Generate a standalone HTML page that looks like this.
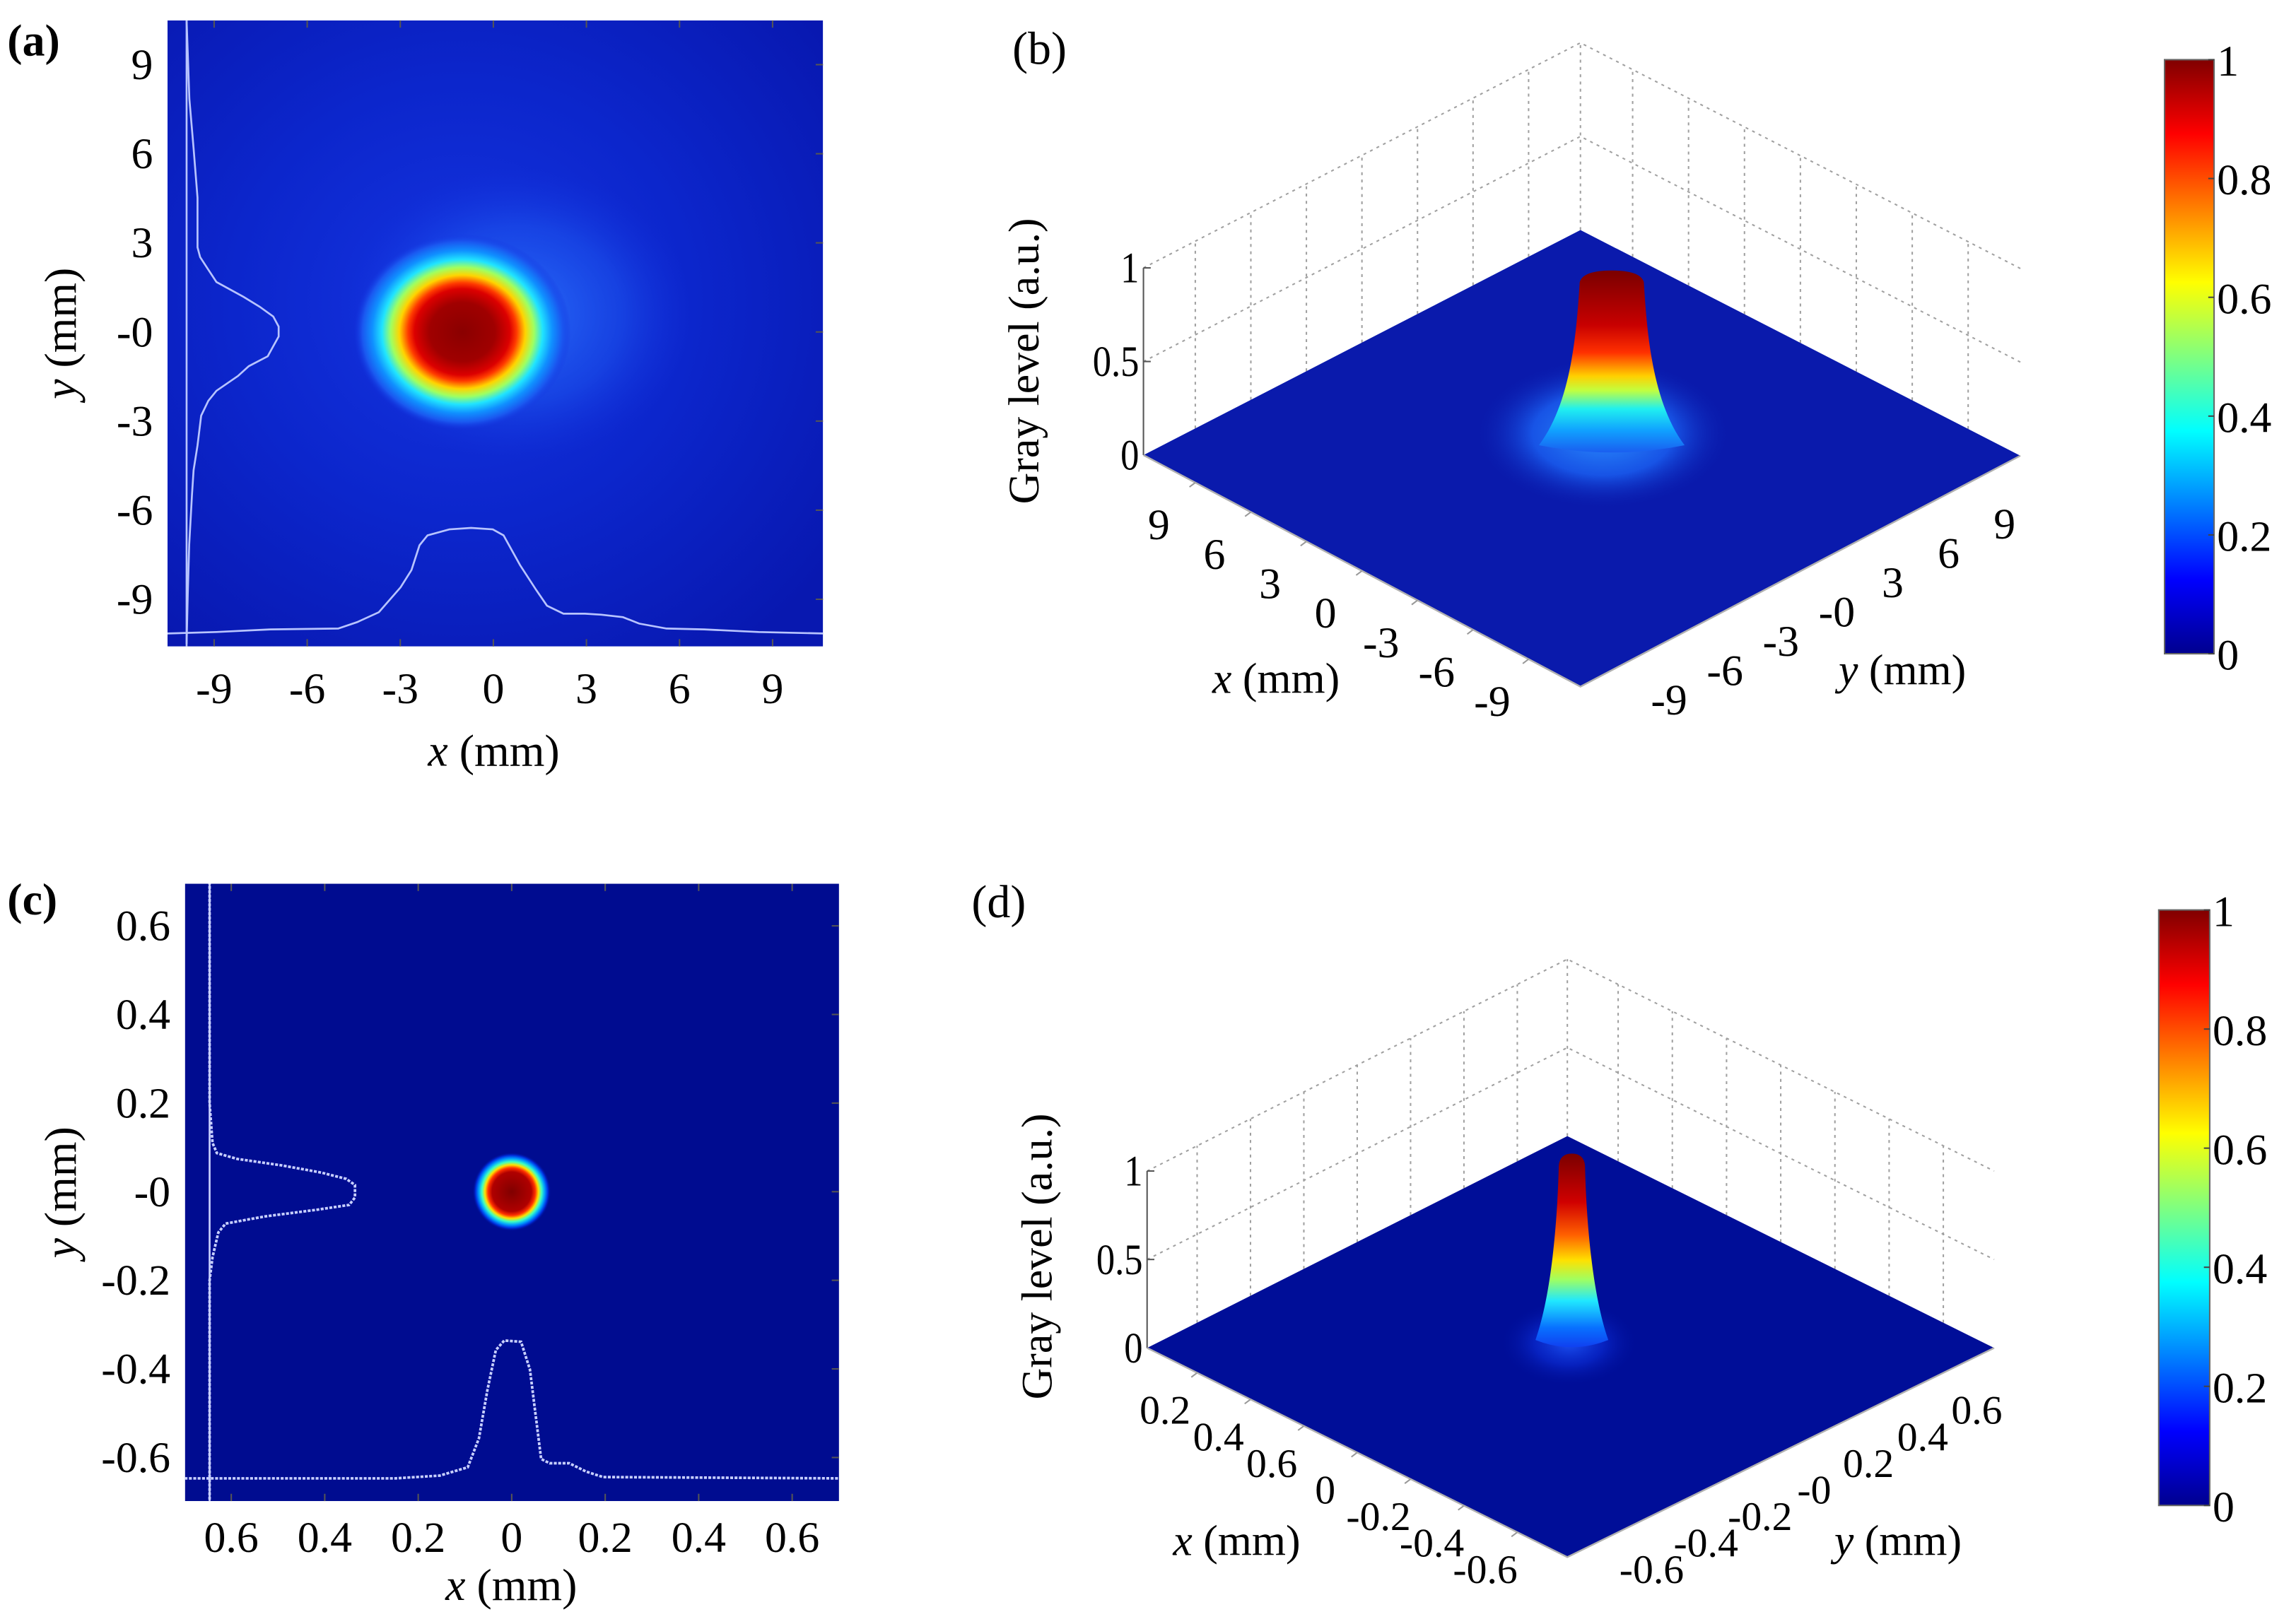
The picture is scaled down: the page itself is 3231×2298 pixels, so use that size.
<!DOCTYPE html>
<html><head><meta charset="utf-8"><style>
html,body{margin:0;padding:0;background:#fff;}
svg, svg text{font-family:"Liberation Serif","DejaVu Serif",serif;}
</style></head><body>
<svg id="fig" xmlns="http://www.w3.org/2000/svg" width="3231" height="2293" viewBox="0 0 1568 1113" preserveAspectRatio="none" font-family="Liberation Serif, serif">
<defs>
 <linearGradient id="jetV" x1="0" y1="1" x2="0" y2="0">
  <stop offset="0" stop-color="#00008f"/><stop offset="0.125" stop-color="#0000ff"/>
  <stop offset="0.375" stop-color="#00ffff"/><stop offset="0.625" stop-color="#ffff00"/>
  <stop offset="0.875" stop-color="#ff0000"/><stop offset="1" stop-color="#800000"/>
 </linearGradient>
 <radialGradient id="bgA" cx="0.45" cy="0.45" r="0.7">
  <stop offset="0" stop-color="#1434e0"/><stop offset="0.5" stop-color="#0c26cc"/><stop offset="1" stop-color="#0818b0"/>
 </radialGradient>
 <radialGradient id="haloA">
  <stop offset="0" stop-color="#2e78ff" stop-opacity="0.85"/><stop offset="0.6" stop-color="#1e58f0" stop-opacity="0.5"/><stop offset="1" stop-color="#1434e0" stop-opacity="0"/>
 </radialGradient>
 <radialGradient id="beamA">
  <stop offset="0" stop-color="#8a0000"/><stop offset="0.3" stop-color="#a00000"/><stop offset="0.44" stop-color="#dc0000"/>
  <stop offset="0.5" stop-color="#ff3a00"/><stop offset="0.58" stop-color="#ffd400"/><stop offset="0.66" stop-color="#a0ff60"/>
  <stop offset="0.74" stop-color="#20e4ff"/><stop offset="0.83" stop-color="#1090ff"/><stop offset="0.92" stop-color="#1a58f0"/>
  <stop offset="1" stop-color="#1434e0" stop-opacity="0"/>
 </radialGradient>
 <radialGradient id="beamC">
  <stop offset="0" stop-color="#800000"/><stop offset="0.5" stop-color="#b00000"/><stop offset="0.6" stop-color="#ff3000"/>
  <stop offset="0.68" stop-color="#ffe000"/><stop offset="0.76" stop-color="#40ffc0"/><stop offset="0.84" stop-color="#00a0ff"/>
  <stop offset="0.92" stop-color="#0030e0"/><stop offset="1" stop-color="#000c90" stop-opacity="0"/>
 </radialGradient>
 <radialGradient id="haloB">
  <stop offset="0" stop-color="#2a90ff"/><stop offset="0.55" stop-color="#1a5ef0" stop-opacity="0.85"/><stop offset="1" stop-color="#0a1aac" stop-opacity="0"/>
 </radialGradient>
 <radialGradient id="haloD">
  <stop offset="0" stop-color="#1a50f0"/><stop offset="0.5" stop-color="#0a2ad0" stop-opacity="0.7"/><stop offset="1" stop-color="#000e98" stop-opacity="0"/>
 </radialGradient>
 <linearGradient id="peakB" x1="0" y1="0" x2="0" y2="1">
  <stop offset="0" stop-color="#7a0000"/><stop offset="0.3" stop-color="#c80000"/><stop offset="0.45" stop-color="#ff3000"/>
  <stop offset="0.58" stop-color="#ffd000"/><stop offset="0.66" stop-color="#c0ff40"/><stop offset="0.76" stop-color="#20f0f0"/>
  <stop offset="0.88" stop-color="#10a0ff"/><stop offset="1" stop-color="#1a5ef0"/>
 </linearGradient>
 <linearGradient id="peakD" x1="0" y1="0" x2="0" y2="1">
  <stop offset="0" stop-color="#7a0000"/><stop offset="0.25" stop-color="#d00000"/><stop offset="0.42" stop-color="#ff6000"/>
  <stop offset="0.55" stop-color="#ffe000"/><stop offset="0.65" stop-color="#a0ff60"/><stop offset="0.76" stop-color="#20e8ff"/>
  <stop offset="0.9" stop-color="#0870ff"/><stop offset="1" stop-color="#1040f0"/>
 </linearGradient>
 <clipPath id="clipA"><rect x="115" y="14" width="450" height="430"/></clipPath>
 <clipPath id="clipC"><rect x="127" y="607" width="449" height="424"/></clipPath>
</defs>
<g id="root" font-family="Liberation Serif, serif"></g>
</svg>
<script>
// ---------- data ----------
const aTickVals=[-9,-6,-3,0,3,6,9];
const aXTickLabels=['-9','-6','-3','0','3','6','9'];
const aYTickLabels=['-9','-6','-3','-0','3','6','9'];
const aProfYpos=[10.5,7.85,6.18,4.52,2.85,2.52,2.1,1.68,1.18,0.85,0.52,0.18,-0.15,-0.48,-0.82,-1.15,-1.48,-1.98,-2.32,-2.82,-3.82,-4.65,-5.48,-7.15,-8.82,-10.5];
const aProfYval=[0,0.03,0.076,0.118,0.118,0.147,0.235,0.324,0.618,0.794,0.941,1.0,1.0,0.941,0.882,0.676,0.559,0.324,0.235,0.159,0.118,0.076,0.059,0.029,0.012,0];
const aProfXpos=[-10.5,-8.93,-7.19,-5.0,-4.39,-3.69,-2.99,-2.64,-2.38,-2.12,-1.42,-0.72,-0.02,0.33,0.86,1.38,1.73,2.26,2.95,3.48,4.18,4.70,5.58,6.80,8.55,10.65];
const aProfXval=[0,0.014,0.038,0.047,0.108,0.202,0.437,0.601,0.836,0.93,0.986,1.0,0.986,0.93,0.648,0.413,0.263,0.188,0.188,0.178,0.155,0.094,0.047,0.038,0.014,0];
const aBeamCenter=[-1,0];
const aBeamRadius=[3.5,3.3];

const cTickVals=[-0.6,-0.4,-0.2,0,0.2,0.4,0.6];
const cXTickLabels=['0.6','0.4','0.2','0','0.2','0.4','0.6'];
const cYTickLabels=['-0.6','-0.4','-0.2','-0','0.2','0.4','0.6'];
const cProfYpos=[0.7,0.2,0.154,0.11,0.087,0.074,0.059,0.043,0.029,0.015,-0.013,-0.03,-0.041,-0.056,-0.072,-0.092,-0.148,-0.2,-0.7];
const cProfYval=[0,0,0.01,0.02,0.05,0.19,0.5,0.77,0.94,1.0,1.0,0.96,0.73,0.38,0.11,0.06,0.02,0,0];
const cProfXpos=[-0.7,-0.25,-0.154,-0.094,-0.07,-0.052,-0.034,-0.016,0.02,0.039,0.051,0.063,0.081,0.123,0.159,0.195,0.7];
const cProfXval=[0,0,0.02,0.08,0.29,0.64,0.93,1.0,0.99,0.79,0.46,0.14,0.11,0.11,0.05,0.01,0];
const cBeamCenter=[0,0];
const cBeamRadius=[0.084,0.089];

const bTickLabelsX=['9','6','3','0','-3','-6','-9'];
const bTickLabelsY=['-9','-6','-3','-0','3','6','9'];
const bTickVals=[9,6,3,0,-3,-6,-9];
const bZTicks=[0,0.5,1];
const bZLabels=['0','0.5','1'];
const bPeak=[0,0,1.0];
const dTickLabelsX=['0.2','0.4','0.6','0','-0.2','-0.4','-0.6'];
const dTickLabelsY=['-0.6','-0.4','-0.2','-0','0.2','0.4','0.6'];
const dTickVals=[0.6,0.4,0.2,0,-0.2,-0.4,-0.6];
const dPeak=[0,0,1.0];
const cbTicks=[0,0.2,0.4,0.6,0.8,1];
const cbLabels=['0','0.2','0.4','0.6','0.8','1'];

// ---------- helpers ----------
const NS='http://www.w3.org/2000/svg';
const root=document.getElementById('root');
function mk(tag,attrs,parent,txt){const e=document.createElementNS(NS,tag);for(const k in attrs)e.setAttribute(k,attrs[k]);if(txt!==undefined)e.textContent=txt;(parent||root).appendChild(e);return e;}
let el;
const FS=30;

// ---------- panel a ----------
const ax=v=>338.7+v*21.3, ay=v=>228-v*20.4;
const gA=mk('g',{});


el=mk('text',{x:5,y:38,'font-size':31,'font-weight':'bold'},gA,'(a)');


const hmA=mk('g',{'clip-path':'url(#clipA)'},gA);


el=mk('rect',{x:115,y:14,width:450,height:430,fill:'url(#bgA)'},hmA);


el=mk('ellipse',{cx:ax(aBeamCenter[0]+1.8),cy:ay(aBeamCenter[1]+0.6),rx:aBeamRadius[0]*21.3*1.6,ry:aBeamRadius[1]*20.4*1.5,fill:'url(#haloA)'},hmA);


el=mk('ellipse',{cx:ax(aBeamCenter[0]),cy:ay(aBeamCenter[1]),rx:aBeamRadius[0]*21.3,ry:aBeamRadius[1]*20.4,fill:'url(#beamA)'},hmA);


el=mk('line',{x1:128.1,y1:14,x2:128.1,y2:444,stroke:'#b8c4ff','stroke-width':1.3},hmA);


el=mk('path',{d:aProfYpos.map((p,i)=>(i?'L':'M')+(128.1+aProfYval[i]*63.2).toFixed(1)+','+ay(p).toFixed(1)).join(''),fill:'none',stroke:'#b8c4ff','stroke-width':1.3},hmA);


el=mk('path',{d:aProfXpos.map((p,i)=>(i?'L':'M')+ax(p).toFixed(1)+','+(435.1-aProfXval[i]*72.5).toFixed(1)).join(''),fill:'none',stroke:'#b8c4ff','stroke-width':1.3},hmA);


aTickVals.forEach((v,i)=>{
 el=mk('line',{x1:ax(v),y1:444,x2:ax(v),y2:439,stroke:'#555','stroke-width':1},gA);
 
 
 el=mk('line',{x1:ax(v),y1:14,x2:ax(v),y2:19,stroke:'#555','stroke-width':1},gA);
 
 
 el=mk('text',{x:ax(v),y:483,'font-size':FS,'text-anchor':'middle'},gA,aXTickLabels[i]);
 
 
 el=mk('line',{x1:565,y1:ay(v),x2:560,y2:ay(v),stroke:'#555','stroke-width':1},gA);
 
 
 el=mk('text',{x:105,y:ay(v)+10,'font-size':FS,'text-anchor':'end'},gA,aYTickLabels[i]);
 
 
});
el=mk('text',{x:339,y:526,'font-size':31,'text-anchor':'middle'},gA);
el.innerHTML='<tspan font-style="italic">x</tspan> (mm)';


el=mk('text',{x:0,y:0,'font-size':31,'text-anchor':'middle',transform:'translate(52,229) rotate(-90)'},gA);
el.innerHTML='<tspan font-style="italic">y</tspan> (mm)';



// ---------- panel c ----------
const cx=v=>351.3+v*320.9, cy=v=>818.5-v*304.3;
const gC=mk('g',{});


el=mk('text',{x:5,y:628,'font-size':31,'font-weight':'bold'},gC,'(c)');


const hmC=mk('g',{'clip-path':'url(#clipC)'},gC);


el=mk('rect',{x:127,y:607,width:449,height:424,fill:'#000c90'},hmC);


el=mk('ellipse',{cx:cx(cBeamCenter[0]),cy:cy(cBeamCenter[1]),rx:cBeamRadius[0]*320.9,ry:cBeamRadius[1]*304.3,fill:'url(#beamC)'},hmC);


el=mk('line',{x1:143.9,y1:607,x2:143.9,y2:1031,stroke:'#c8d0ff','stroke-width':1.3},hmC);


el=mk('path',{d:cProfYpos.map((p,i)=>(i?'L':'M')+(143.9+cProfYval[i]*99.8).toFixed(1)+','+cy(p).toFixed(1)).join(''),fill:'none',stroke:'#c8d0ff','stroke-width':1.8,'stroke-dasharray':'2 1'},hmC);


el=mk('path',{d:cProfXpos.map((p,i)=>(i?'L':'M')+cx(p).toFixed(1)+','+(1015.4-cProfXval[i]*94.7).toFixed(1)).join(''),fill:'none',stroke:'#c8d0ff','stroke-width':1.8,'stroke-dasharray':'2 1'},hmC);


cTickVals.forEach((v,i)=>{
 el=mk('line',{x1:cx(v),y1:1031,x2:cx(v),y2:1026,stroke:'#555','stroke-width':1},gC);
 
 
 el=mk('line',{x1:cx(v),y1:607,x2:cx(v),y2:612,stroke:'#555','stroke-width':1},gC);
 
 
 el=mk('text',{x:cx(v),y:1066,'font-size':FS,'text-anchor':'middle'},gC,cXTickLabels[i]);
 
 
 el=mk('line',{x1:576,y1:cy(v),x2:571,y2:cy(v),stroke:'#555','stroke-width':1},gC);
 
 
 el=mk('text',{x:117,y:cy(v)+10,'font-size':FS,'text-anchor':'end'},gC,cYTickLabels[i]);
 
 
});
el=mk('text',{x:351,y:1099,'font-size':31,'text-anchor':'middle'},gC);
el.innerHTML='<tspan font-style="italic">x</tspan> (mm)';


el=mk('text',{x:0,y:0,'font-size':31,'text-anchor':'middle',transform:'translate(52,819) rotate(-90)'},gC);
el.innerHTML='<tspan font-style="italic">y</tspan> (mm)';



// ---------- 3D panels ----------
function panel3D(o){
 const g=mk('g',{});
 
 
 const L=o.L,T=o.T,R=o.R,B=o.B,H=o.H,span=o.span;
 const lerp=(P,Q,f)=>[P[0]+(Q[0]-P[0])*f,P[1]+(Q[1]-P[1])*f];
 const frac=v=>0.5+v/span;
 el=mk('text',{x:o.lab[0],y:o.lab[1],'font-size':32},g,o.labText);
 
 
 const dash={stroke:'#a0a0a0','stroke-width':1,'stroke-dasharray':'2 3',fill:'none'};
 [0.5,1].forEach(z=>{
  el=mk('polyline',Object.assign({points:[L[0]+','+(L[1]-z*H),T[0]+','+(T[1]-z*H),R[0]+','+(R[1]-z*H)].join(' ')},dash),g);
  
  
 });
 o.tickVals.forEach(v=>{
  const f=frac(v);
  const p=lerp(L,T,f), q=lerp(T,R,f);
  el=mk('line',Object.assign({x1:p[0],y1:p[1],x2:p[0],y2:p[1]-H},dash),g);
  
  
  el=mk('line',Object.assign({x1:q[0],y1:q[1],x2:q[0],y2:q[1]-H},dash),g);
  
  
 });
 el=mk('line',Object.assign({x1:T[0],y1:T[1],x2:T[0],y2:T[1]-H},dash),g);
 
 
 el=mk('line',{x1:L[0],y1:L[1],x2:L[0],y2:L[1]-H,stroke:'#555','stroke-width':1},g);
 
 
 bZTicks.forEach((z,i)=>{
  el=mk('line',{x1:L[0],y1:L[1]-z*H,x2:L[0]+5,y2:L[1]-z*H,stroke:'#555','stroke-width':1},g);
  
  
  el=mk('text',{x:L[0]-3,y:L[1]-z*H+10,'font-size':FS,'text-anchor':'end',transform:'translate('+(L[0]-3)+',0) scale(0.85,1) translate('+(-(L[0]-3))+',0)'},g,bZLabels[i]);
  
  
 });
 el=mk('polygon',{points:[L,T,R,B].map(p=>p.join(',')).join(' '),fill:o.plane},g);
 
 
 el=mk('polyline',{points:[L,B,R].map(p=>p.join(',')).join(' '),fill:'none',stroke:'#b0b0b0','stroke-width':1.2},g);
 
 
 const ctr=lerp(lerp(L,B,frac(-o.peak[0])),lerp(T,R,frac(-o.peak[0])),0.5);
 const base=[ctr[0]+o.peakOff[0],ctr[1]+o.peakOff[1]];
 el=mk('ellipse',{cx:base[0]+o.haloOff[0],cy:base[1]+o.haloOff[1],rx:o.halo[0],ry:o.halo[1],fill:o.haloFill},g);
 
 
 const top=base[1]-o.peak[2]*o.peakH, tw=o.topW, bw=o.baseW;
 const d='M'+(base[0]-bw)+','+base[1]+' C'+(base[0]-bw*0.55)+','+(base[1]-o.peakH*0.25)+' '+(base[0]-tw*1.1)+','+(top+o.peakH*0.35)+' '+(base[0]-tw)+','+(top+8)+
  ' Q'+(base[0]-tw*0.9)+','+top+' '+base[0]+','+top+' Q'+(base[0]+tw*0.9)+','+top+' '+(base[0]+tw)+','+(top+8)+
  ' C'+(base[0]+tw*1.1)+','+(top+o.peakH*0.35)+' '+(base[0]+bw*0.55)+','+(base[1]-o.peakH*0.25)+' '+(base[0]+bw)+','+base[1]+
  ' Q'+base[0]+','+(base[1]+10)+' '+(base[0]-bw)+','+base[1]+'Z';
 el=mk('path',{d:d,fill:o.peakFill},g);
 
 
 o.tickVals.forEach((v,i)=>{
  const f=frac(-v);
  const p=lerp(L,B,f);
  el=mk('line',{x1:p[0],y1:p[1],x2:p[0]-4,y2:p[1]+3,stroke:'#999'},g);
  
  
  el=mk('text',{x:p[0]+o.xOff[0],y:p[1]+o.xOff[1]+10,'font-size':o.fs,'text-anchor':'middle'},g,o.xLabels[i]);
  
  
  const q=lerp(B,R,f);
  el=mk('text',{x:q[0]+o.yOff[0],y:q[1]+o.yOff[1]+10,'font-size':o.fs,'text-anchor':'middle'},g,o.yLabels[i]);
  
  
 });
 el=mk('text',{x:o.xt[0],y:o.xt[1]+10,'font-size':30,'text-anchor':'middle'},g);
 el.innerHTML='<tspan font-style="italic">x</tspan> (mm)';
 
 
 el=mk('text',{x:o.yt[0],y:o.yt[1]+10,'font-size':30,'text-anchor':'middle'},g);
 el.innerHTML='<tspan font-style="italic">y</tspan> (mm)';
 
 
 el=mk('text',{x:0,y:0,'font-size':30,'text-anchor':'middle',transform:'translate('+(o.zt[0]+10)+','+o.zt[1]+') rotate(-90)'},g,'Gray level (a.u.)');
 
 
 const cb=o.cb;
 el=mk('rect',{x:cb[0],y:cb[1],width:cb[2],height:cb[3],fill:'url(#jetV)',stroke:'#666','stroke-width':1},g);
 
 
 cbTicks.forEach((t,i)=>{
  const yy=cb[1]+cb[3]*(1-t);
  el=mk('line',{x1:cb[0]+cb[2],y1:yy,x2:cb[0]+cb[2]-4,y2:yy,stroke:'#444'},g);
  
  
  el=mk('text',{x:cb[0]+cb[2]+2,y:yy+11,'font-size':30},g,cbLabels[i]);
  
  
 });
}
panel3D({name:'panel-b',L:[785,312.6],T:[1085,158],R:[1387,313],B:[1085,471.6],H:128.6,span:23.6,
 lab:[695,44],labText:'(b)',tickVals:bTickVals,xLabels:bTickLabelsX,yLabels:bTickLabelsY,fs:30,
 xOff:[-25,29],yOff:[25,28],xt:[876,466],yt:[1306,460],zt:[703,248],
 plane:'#0a1aac',peak:bPeak,peakOff:[21,-8],peakH:120,topW:22,baseW:50,halo:[88,52],haloOff:[-6,-8],haloFill:'url(#haloB)',peakFill:'url(#peakB)',
 cb:[1486,41,34,408]});
panel3D({name:'panel-d',L:[787.5,925.8],T:[1076,780.3],R:[1369,925.8],B:[1076,1069.5],H:121.5,span:1.575,
 lab:[667,630],labText:'(d)',tickVals:dTickVals,xLabels:dTickLabelsX,yLabels:dTickLabelsY,fs:28,
 xOff:[-22,25],yOff:[23,25],xt:[849,1058],yt:[1303,1058],zt:[712,863],
 plane:'#000e98',peak:dPeak,peakOff:[2,-5],peakH:128,topW:9,baseW:25,halo:[48,30],haloOff:[-2,2],haloFill:'url(#haloD)',peakFill:'url(#peakD)',
 cb:[1482,625,35,409]});
</script>
</body></html>
